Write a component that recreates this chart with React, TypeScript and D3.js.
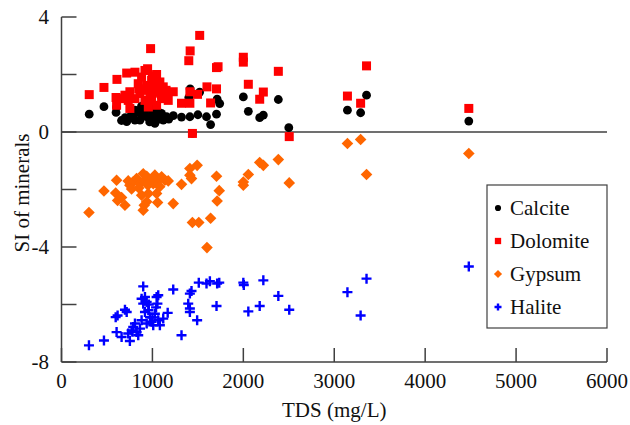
import React from "react";
import * as d3 from "d3";

const xTicks = [0, 1000, 2000, 3000, 4000, 5000, 6000];
const yTicks = [4, 2, 0, -2, -4, -6, -8];
const yTickLabels = ["4", "", "0", "", "-4", "", "-8"];

const calcite: [number, number][] = [
  [305, 0.62], [467, 0.88], [606, 0.87], [600, 0.68], [660, 0.4], [717, 0.36], [734, 0.47], [789, 0.59],
  [808, 0.41], [808, 0.76], [844, 0.7], [863, 0.41], [881, 0.53], [918, 0.76], [937, 0.53], [955, 0.82],
  [991, 0.59], [1027, 0.3], [1046, 0.41], [1064, 0.7], [1082, 0.53], [1119, 0.41], [1156, 0.53], [1230, 0.57],
  [1320, 0.52], [1412, 0.53], [1500, 0.6], [1595, 0.53], [1640, 0.26], [1705, 0.62], [1712, 1.14], [1740, 0.99],
  [1400, 1.2], [1415, 1.5], [1520, 1.39], [2000, 1.22], [2055, 0.72], [2180, 0.5], [2220, 0.59], [2385, 1.13],
  [2500, 0.15], [3145, 0.76], [3290, 0.67], [3355, 1.28], [4480, 0.38], [1440, -0.05],
  [950, 0.95], [1000, 0.85], [1100, 0.65], [880, 0.9], [1000, 0.45], [760, 0.55], [1180, 0.45], [700, 0.5],
  [970, 0.35], [1040, 0.62],
];

const dolomite: [number, number][] = [
  [305, 1.3], [467, 1.55], [610, 1.83], [600, 1.2], [606, 0.93], [717, 2.05], [808, 2.08], [947, 2.2],
  [980, 2.9], [1046, 2.0], [698, 1.28], [734, 1.1], [752, 0.82], [844, 1.68], [881, 1.91], [899, 1.45],
  [937, 1.62], [973, 1.28], [991, 1.8], [1027, 1.57], [1064, 1.4], [1082, 1.74], [1119, 1.57], [1137, 1.22],
  [1046, 0.93], [918, 1.1], [808, 1.16], [1174, 1.1], [1229, 1.4], [991, 1.1], [1101, 1.16], [955, 0.87],
  [643, 1.16], [752, 1.4], [863, 1.34], [918, 2.14], [1320, 1.0], [1412, 1.0], [1412, 1.4], [1496, 1.31],
  [1400, 2.48], [1415, 2.82], [1520, 3.36], [1440, -0.05], [1600, 1.57], [1705, 1.5], [1640, 1.01],
  [1722, 2.27], [1705, 2.24], [2000, 2.6], [2000, 2.43], [2055, 1.66], [2220, 1.39], [2180, 1.14],
  [2385, 2.11], [2505, -0.16], [3145, 1.25], [3290, 1.0], [3355, 2.3], [4480, 0.82],
  [1000, 1.95], [1050, 1.7], [950, 1.5], [1100, 1.3], [1000, 1.35], [850, 1.5], [1150, 1.45],
];

const gypsum: [number, number][] = [
  [302, -2.8], [467, -2.05], [606, -1.68], [596, -2.12], [617, -2.38], [661, -2.28], [698, -2.55], [734, -1.7],
  [752, -1.85], [789, -1.73], [771, -1.98], [826, -1.62], [863, -1.8], [899, -1.45], [918, -1.68], [937, -1.54],
  [973, -1.73], [1027, -1.5], [1064, -1.68], [1101, -1.56], [1137, -1.68], [1174, -1.7], [1009, -1.8],
  [881, -2.2], [955, -2.14], [1046, -2.14], [937, -2.43], [1057, -2.45], [899, -2.72], [910, -2.55],
  [1229, -2.49], [1320, -1.82], [1412, -1.27], [1412, -1.5], [1430, -1.62], [1492, -1.16], [1440, -3.15],
  [1510, -3.15], [1640, -3.0], [1600, -4.02], [1705, -1.54], [1735, -2.04], [1712, -2.4], [2000, -1.74],
  [2000, -1.85], [2055, -1.48], [2180, -1.06], [2220, -1.16], [2385, -0.96], [2505, -1.77], [3145, -0.4],
  [3290, -0.26], [3355, -1.48], [4480, -0.75],
  [950, -1.85], [1000, -1.6], [850, -1.95], [1080, -1.9],
];

const halite: [number, number][] = [
  [302, -7.42], [467, -7.25], [606, -6.96], [596, -6.44], [617, -6.38], [698, -6.18], [717, -6.26], [661, -7.13],
  [752, -7.27], [734, -7.01], [771, -6.9], [789, -6.78], [808, -6.66], [844, -7.07], [863, -6.84], [881, -6.55],
  [899, -5.37], [881, -5.8], [899, -5.97], [918, -5.74], [937, -5.91], [918, -6.26], [955, -6.2], [973, -6.44],
  [937, -6.66], [991, -6.6], [1027, -6.32], [1046, -5.74], [1064, -5.68], [1055, -5.97], [1064, -6.55],
  [1009, -6.72], [1082, -6.72], [1119, -6.49], [1168, -6.29], [826, -6.96], [1229, -5.48], [1320, -7.07],
  [1412, -5.62], [1430, -5.53], [1394, -5.97], [1412, -6.14], [1412, -6.26], [1492, -6.55], [1510, -5.24],
  [1595, -5.27], [1632, -5.19], [1712, -5.27], [1735, -5.24], [1705, -6.05], [2000, -5.24], [2005, -5.32],
  [2055, -6.24], [2180, -6.05], [2220, -5.16], [2385, -5.7], [2505, -6.18], [3145, -5.57], [3290, -6.38],
  [3355, -5.1], [4480, -4.68],
  [960, -6.0], [1000, -6.45], [1040, -6.1], [780, -6.95],
];

const legendNames = ["Calcite", "Dolomite", "Gypsum", "Halite"];
const seriesKeys = ["calcite", "dolomite", "gypsum", "halite"];
const colors: Record<string, string> = { calcite: "#000000", dolomite: "#ff0000", gypsum: "#ff6600", halite: "#0000ff" };

const AX = "#404040";
const FS = 21;
const SERIF = "Liberation Serif";

const x = d3.scaleLinear().domain([0, 6000]).range([61.5, 607]);
const y = d3.scaleLinear().domain([-8, 4]).range([362, 17]);

function Marker({ kind, cx, cy, s = 1 }: { kind: string; cx: number; cy: number; s?: number }) {
  if (kind === "calcite") return <circle cx={cx} cy={cy} r={4.4 * s} fill={colors.calcite} />;
  if (kind === "dolomite")
    return <rect x={cx - 4.5 * s} y={cy - 4.5 * s} width={9 * s} height={9 * s} fill={colors.dolomite} />;
  if (kind === "gypsum") {
    const r = 5.8 * s;
    return <path d={`M${cx},${cy - r}L${cx + r},${cy}L${cx},${cy + r}L${cx - r},${cy}Z`} fill={colors.gypsum} />;
  }
  const a = 5 * s;
  return (
    <path d={`M${cx - a},${cy}H${cx + a}M${cx},${cy - a}V${cy + a}`} stroke={colors.halite} strokeWidth={2.4} fill="none" />
  );
}

function T(props: any) {
  const { children, ...rest } = props;
  return (
    <text fontSize={FS} fill="#111" style={{ fontFamily: SERIF }} {...rest}>
      {children}
    </text>
  );
}

export default function App() {
  const all = [calcite, dolomite, gypsum, halite];
  const [x0, x1] = x.range();
  const [yb, yt] = y.range();
  return (
    <svg width={630} height={425} style={{ position: "absolute", left: 0, top: 0, fontFamily: SERIF }}>
      <line x1={x0} x2={x1} y1={y(0)} y2={y(0)} stroke={AX} strokeWidth={1.5} />
      <line x1={x0} x2={x0} y1={yt} y2={yb} stroke={AX} strokeWidth={1.5} />
      <line x1={x0} x2={x1} y1={yb} y2={yb} stroke={AX} strokeWidth={1.5} />
      {xTicks.map((t) => (
        <g key={"x" + t}>
          <line x1={x(t)} x2={x(t)} y1={yb} y2={yb - 14} stroke={AX} strokeWidth={1.5} />
          <T x={x(t)} y={yb + 26} textAnchor="middle">{String(t)}</T>
        </g>
      ))}
      {yTicks.map((t, i) => (
        <g key={"y" + t}>
          <line x1={x0} x2={x0 + 15} y1={y(t)} y2={y(t)} stroke={AX} strokeWidth={1.5} />
          <T x={49} y={y(t)} dy="0.35em" textAnchor="end">{yTickLabels[i]}</T>
        </g>
      ))}
      <T x={(x0 + x1) / 2} y={417} textAnchor="middle">TDS (mg/L)</T>
      <T transform="translate(29,193) rotate(-90)" textAnchor="middle">SI of minerals</T>
      {seriesKeys.map((k, si) => (
        <g key={k}>
          {all[si].map((d, i) => (
            <Marker key={i} kind={k} cx={x(d[0])} cy={y(d[1])} />
          ))}
        </g>
      ))}
      <rect x={487} y={185} width={120} height={143} fill="#fff" stroke={AX} strokeWidth={1.2} />
      {legendNames.map((name, i) => {
        const ly = 208 + i * 33;
        return (
          <g key={name}>
            <Marker kind={seriesKeys[i]} cx={498} cy={ly} s={0.7} />
            <T x={510} y={ly} dy="0.35em">{name}</T>
          </g>
        );
      })}
    </svg>
  );
}
